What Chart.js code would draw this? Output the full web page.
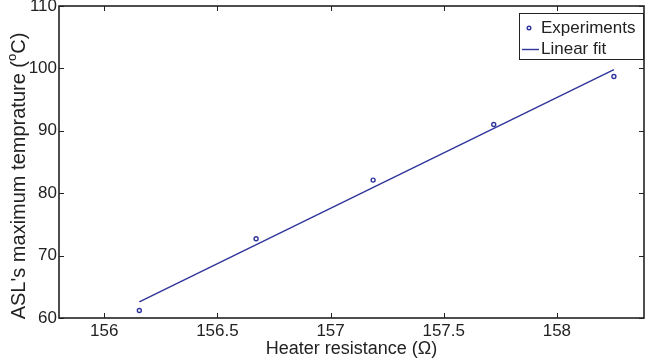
<!DOCTYPE html>
<html>
<head>
<meta charset="utf-8">
<script src="https://cdn.jsdelivr.net/npm/chart.js@4/dist/chart.umd.min.js"></script>
<style>
  html, body { margin: 0; padding: 0; background: #fff; }
  #wrap { width: 645px; height: 363px; }
</style>
</head>
<body>
<div id="wrap"><canvas id="c" width="645" height="363"></canvas></div>
<script>
// ---- data ----
const resistance = [156.155, 156.671, 157.188, 157.721, 158.252];
const temperature = [61.2, 72.7, 82.1, 91.0, 98.7];
const fitResistance = [156.155, 158.252];
const fitTemperature = [62.6, 99.8];
const xTickValues = [156, 156.5, 157, 157.5, 158];
const yTickValues = [60, 70, 80, 90, 100, 110];
const seriesLabels = ['Experiments', 'Linear fit'];
const xTitle = 'Heater resistance (\u03A9)';
const yTitleParts = ["ASL's maximum temprature (", 'o', 'C)'];

const FONT = "'Liberation Sans', Arial, Helvetica, sans-serif";
const BLUE = '#2f359b';
const INK = '#222222';

const framePlugin = {
  id: 'frame',
  afterDatasetsDraw(chart) {
    const { ctx, chartArea: a, scales } = chart;
    ctx.save();
    ctx.strokeStyle = INK;
    ctx.lineWidth = 1;
    const tl = 5;
    ctx.beginPath();
    scales.x.ticks.forEach(t => {
      const px = Math.round(scales.x.getPixelForValue(t.value)) + 0.5;
      ctx.moveTo(px, a.bottom); ctx.lineTo(px, a.bottom - tl);
      ctx.moveTo(px, a.top); ctx.lineTo(px, a.top + tl);
    });
    scales.y.ticks.forEach(t => {
      const py = Math.round(scales.y.getPixelForValue(t.value)) + 0.5;
      ctx.moveTo(a.left, py); ctx.lineTo(a.left + tl, py);
      ctx.moveTo(a.right, py); ctx.lineTo(a.right - tl, py);
    });
    ctx.stroke();
    ctx.lineWidth = 1.6;
    ctx.strokeRect(a.left, a.top, a.right - a.left, a.bottom - a.top);
    ctx.restore();
  },
  afterDraw(chart) {
    const { ctx } = chart;
    // y-axis title with superscript
    ctx.save();
    ctx.fillStyle = INK;
    ctx.translate(19, 176);
    ctx.rotate(-Math.PI / 2);
    ctx.textBaseline = 'middle';
    const big = '20px ' + FONT, small = '13px ' + FONT;
    ctx.font = big; const w1 = ctx.measureText(yTitleParts[0]).width;
    ctx.font = small; const w2 = ctx.measureText(yTitleParts[1]).width;
    ctx.font = big; const w3 = ctx.measureText(yTitleParts[2]).width;
    let x0 = -(w1 + w2 + w3) / 2;
    ctx.font = big; ctx.fillText(yTitleParts[0], x0, 0);
    ctx.font = small; ctx.fillText(yTitleParts[1], x0 + w1, -7);
    ctx.font = big; ctx.fillText(yTitleParts[2], x0 + w1 + w2, 0);
    ctx.restore();

    // legend box
    ctx.save();
    const bx = 519, by = 13, bw = 124, bh = 46;
    ctx.fillStyle = '#fff';
    ctx.fillRect(bx, by, bw, bh);
    ctx.strokeStyle = INK; ctx.lineWidth = 1;
    ctx.strokeRect(bx + 0.5, by + 0.5, bw, bh);
    ctx.font = '17px ' + FONT;
    ctx.fillStyle = INK;
    ctx.textBaseline = 'middle';
    ctx.fillText(seriesLabels[0], 541, 28);
    ctx.fillText(seriesLabels[1], 541, 49);
    ctx.strokeStyle = BLUE; ctx.lineWidth = 1.4;
    ctx.beginPath(); ctx.arc(529, 28, 1.8, 0, Math.PI * 2); ctx.stroke();
    ctx.beginPath(); ctx.moveTo(522, 49.5); ctx.lineTo(539, 49.5); ctx.stroke();
    ctx.restore();
  }
};

new Chart(document.getElementById('c'), {
  type: 'scatter',
  data: {
    datasets: [
      {
        label: seriesLabels[0],
        data: resistance.map((x, i) => ({ x, y: temperature[i] })),
        showLine: false,
        pointStyle: 'circle',
        pointRadius: 2,
        pointBorderWidth: 1.4,
        borderColor: BLUE,
        backgroundColor: '#ffffff'
      },
      {
        label: seriesLabels[1],
        data: fitResistance.map((x, i) => ({ x, y: fitTemperature[i] })),
        showLine: true,
        pointRadius: 0,
        borderWidth: 1.4,
        borderColor: BLUE,
        backgroundColor: BLUE
      }
    ]
  },
  options: {
    responsive: false,
    animation: false,
    devicePixelRatio: 1,
    layout: { autoPadding: false, padding: { top: 6, right: 1, left: 0, bottom: 0 } },
    plugins: { legend: { display: false }, tooltip: { enabled: false } },
    scales: {
      x: {
        type: 'linear',
        min: 155.8,
        max: 158.385,
        afterBuildTicks: s => { s.ticks = xTickValues.map(v => ({ value: v })); },
        afterFit: s => { s.height = 45; s.paddingLeft = 0; s.paddingRight = 0; },
        grid: { display: false, drawTicks: false },
        border: { display: false },
        ticks: {
          padding: 3,
          color: INK,
          font: { family: FONT, size: 17 },
          maxRotation: 0,
          callback: v => String(v)
        },
        title: {
          display: true,
          text: xTitle,
          color: INK,
          font: { family: FONT, size: 18 },
          padding: { top: 0, bottom: 3 }
        }
      },
      y: {
        type: 'linear',
        min: 60,
        max: 110,
        afterBuildTicks: s => { s.ticks = yTickValues.map(v => ({ value: v })); },
        afterFit: s => { s.width = 59; s.paddingTop = 0; s.paddingBottom = 0; },
        grid: { display: false, drawTicks: false },
        border: { display: false },
        ticks: {
          padding: 2,
          color: INK,
          font: { family: FONT, size: 17 },
          callback: v => String(v)
        },
        title: { display: false }
      }
    }
  },
  plugins: [framePlugin]
});
</script>
</body>
</html>
